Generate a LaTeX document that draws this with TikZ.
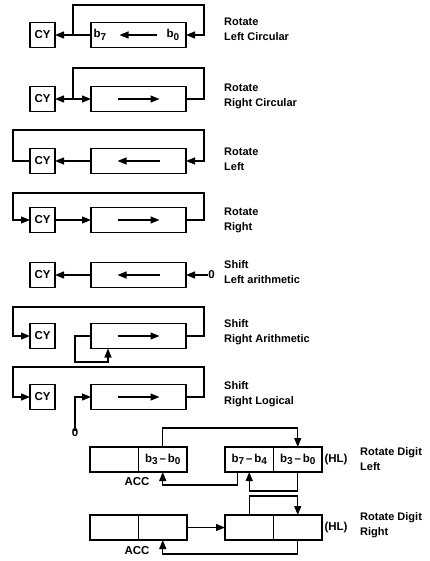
\documentclass[tikz,border=0pt]{standalone}
\usepackage{fontspec}
\setmainfont{Liberation Sans}
\usetikzlibrary{arrows.meta,calc}
\newcommand\bsub[2]{#1\raisebox{-2.5pt}{\fontsize{10}{10}\selectfont #2}}
\tikzset{
 ln/.style={line width=1.2pt},
 arr/.style={ln,-{Triangle[length=9pt,width=7pt]}},
 box/.style={draw,ln,minimum height=25pt,inner sep=0pt,outer sep=0pt},
 cybox/.style={box,minimum width=25pt,font=\bfseries\fontsize{11.5}{13}\selectfont},
 regbox/.style={box,minimum width=95pt},
 cellbox/.style={box,minimum width=48.5pt,font=\bfseries\fontsize{11.5}{13}\selectfont},
 lab/.style={font=\bfseries\fontsize{11}{15}\selectfont,align=left,anchor=west,inner sep=0pt},
 txt/.style={font=\bfseries\fontsize{11.5}{13}\selectfont,inner sep=0pt},
}
\begin{document}
\begin{tikzpicture}[x=1pt,y=-1pt]
\useasboundingbox (0,0) rectangle (430,561);
% ---------- Row 1: Rotate Left Circular
\node[cybox] (cy1) at (42.5,35) {CY};
\node[regbox] (reg1) at (138.5,35) {};
\node[txt] (b7) at (100,35) {\bsub{b}{7}};
\node[txt] (b0) at (173,35) {\bsub{b}{0}};
\coordinate (j1) at (73,35);
\draw[arr] (reg1.west) -- (cy1.east);
\draw[arr] (j1) -- (73,5) -| (204,35) -- (reg1.east);
\draw[arr] ($(reg1.center)+(18,0)$) -- ($(reg1.center)+(-19,0)$);
\node[lab] (l1) at (224,29.5) {Rotate\\Left Circular};
% ---------- Row 2: Rotate Right Circular
\node[cybox] (cy2) at (42.5,99) {CY};
\node[regbox] (reg2) at (138.5,99) {};
\coordinate (j2) at (73,99);
\draw[arr] (j2) -- (cy2.east);
\draw[arr] (j2) -- (reg2.west);
\draw[ln] (reg2.east) -| (204,68) -| (j2);
\draw[arr] ($(reg2.center)+(-21,0)$) -- ($(reg2.center)+(21,0)$);
\node[lab] (l2) at (224,96.5) {Rotate\\Right Circular};
% ---------- Row 3: Rotate Left
\node[cybox] (cy3) at (42.5,161) {CY};
\node[regbox] (reg3) at (138.5,161) {};
\draw[arr] (reg3.west) -- (cy3.east);
\draw[arr] (cy3.west) -| (13,130) -| (204,161) -- (reg3.east);
\draw[arr] ($(reg3.center)+(21,0)$) -- ($(reg3.center)+(-21,0)$);
\node[lab] (l3) at (224,159.5) {Rotate\\Left};
% ---------- Row 4: Rotate Right
\node[cybox] (cy4) at (42.5,220) {CY};
\node[regbox] (reg4) at (138.5,220) {};
\draw[arr] (cy4.east) -- (reg4.west);
\draw[arr] (reg4.east) -| (204,193) -| (13,220) -- (cy4.west);
\draw[arr] ($(reg4.center)+(-21,0)$) -- ($(reg4.center)+(21,0)$);
\node[lab] (l4) at (224,220.5) {Rotate\\Right};
% ---------- Row 5: Shift Left arithmetic
\node[cybox] (cy5) at (42.5,275) {CY};
\node[regbox] (reg5) at (138.5,275) {};
\node[txt] (zero5) at (211.5,275) {0};
\draw[arr] (reg5.west) -- (cy5.east);
\draw[arr] (zero5.west) -- (reg5.east);
\draw[arr] ($(reg5.center)+(21,0)$) -- ($(reg5.center)+(-21,0)$);
\node[lab] (l5) at (224,272.5) {Shift\\Left arithmetic};
% ---------- Row 6: Shift Right Arithmetic
\node[cybox] (cy6) at (42.5,336) {CY};
\node[regbox] (reg6) at (138.5,336) {};
\draw[arr] (reg6.east) -| (204,307) -| (13,336) -- (cy6.west);
\draw[arr] (reg6.west) -| (75,362) -| ($(reg6.south west)+(17,0)$);
\draw[arr] ($(reg6.center)+(-21,0)$) -- ($(reg6.center)+(21,0)$);
\node[lab] (l6) at (224,332.5) {Shift\\Right Arithmetic};
% ---------- Row 7: Shift Right Logical
\node[cybox] (cy7) at (42.5,397) {CY};
\node[regbox] (reg7) at (138.5,397) {};
\node[txt] (zero7) at (75,433) {0};
\draw[arr] (reg7.east) -| (204,367) -| (13,397) -- (cy7.west);
\draw[arr] ([yshift=-2pt]zero7.north) |- (reg7.west);
\draw[arr] ($(reg7.center)+(-21,0)$) -- ($(reg7.center)+(21,0)$);
\node[lab] (l7) at (224,394.5) {Shift\\Right Logical};
% ---------- Row 8: Rotate Digit Left
\node[cellbox] (acc8a) at (114.25,459.5) {};
\node[cellbox] (acc8b) at (162.75,459.5) {\bsub{b}{3}\,--\,\bsub{b}{0}};
\node[cellbox] (hl8a) at (249.25,459.5) {\bsub{b}{7}\,--\,\bsub{b}{4}};
\node[cellbox] (hl8b) at (297.75,459.5) {\bsub{b}{3}\,--\,\bsub{b}{0}};
\node[txt] (acc8) at (137,482) {ACC};
\node[txt] (hl8) at (336,459.5) {(HL)};
\draw[arr] (acc8b.north) |- ($(hl8b.north)+(0,-19)$) -- (hl8b.north);
\draw[arr] ($(hl8a.south)+(-12,0)$) -- ++(0,13) -| (acc8b.south);
\draw[arr] (hl8b.south) -- ++(0,19) -| (hl8a.south);
\node[lab] (l8) at (360,459.5) {Rotate Digit\\Left};
% ---------- Row 9: Rotate Digit Right
\node[cellbox] (acc9a) at (114.25,527.5) {};
\node[cellbox] (acc9b) at (162.75,527.5) {};
\node[cellbox] (hl9a) at (249.25,527.5) {};
\node[cellbox] (hl9b) at (297.75,527.5) {};
\node[txt] (acc9) at (137,551) {ACC};
\node[txt] (hl9) at (336,527.5) {(HL)};
\draw[arr] (acc9b.east) -- (hl9a.west);
\draw[arr] (hl9a.north) -- ++(0,-19) -| (hl9b.north);
\draw[arr] (hl9b.south) -- ++(0,14) -| (acc9b.south);
\node[lab] (l9) at (360,525.5) {Rotate Digit\\Right};
\end{tikzpicture}
\end{document}
